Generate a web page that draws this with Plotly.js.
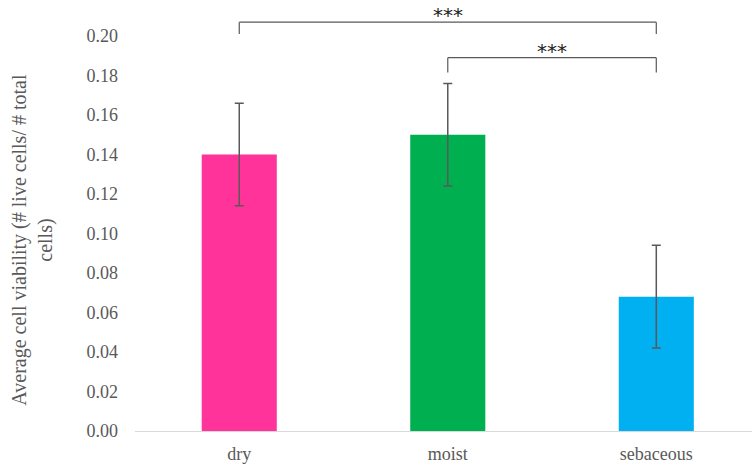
<!DOCTYPE html>
<html>
<head>
<meta charset="utf-8">
<script src="https://cdn.plot.ly/plotly-3.0.1.min.js"></script>
<style>html,body{margin:0;padding:0;background:#fff;}#chart{width:752px;height:465px;}</style>
</head>
<body>
<div id="chart"></div>
<script>
const categories = ["dry", "moist", "sebaceous"];
const means = [0.140, 0.150, 0.068];
const errors = [0.026, 0.026, 0.026];
const barColors = ["#FF3399", "#00B050", "#00B0F0"];
const tickVals = [0, 0.02, 0.04, 0.06, 0.08, 0.10, 0.12, 0.14, 0.16, 0.18, 0.20];
const tickText = ["0.00", "0.02", "0.04", "0.06", "0.08", "0.10", "0.12", "0.14", "0.16", "0.18", "0.20"];
const yTitle = "Average cell viability (# live cells/ # total<br>cells)";
// significance comparisons
const sigFrom = [0, 1];
const sigTo = [2, 2];
const sigLevel = [0.207, 0.189];
const sigDrop = [0.201, 0.1815];
const sigLabel = ["***", "***"];

const font = "Liberation Serif, DejaVu Serif, serif";
const shapes = [];
const annotations = [];
for (let i = 0; i < sigFrom.length; i++) {
  const a = sigFrom[i], b = sigTo[i], y = sigLevel[i], d = sigDrop[i];
  const ln = {color: "#595959", width: 1.2};
  shapes.push({type: "line", xref: "x", yref: "y", x0: a, x1: b, y0: y, y1: y, line: ln});
  shapes.push({type: "line", xref: "x", yref: "y", x0: a, x1: a, y0: d, y1: y, line: ln});
  shapes.push({type: "line", xref: "x", yref: "y", x0: b, x1: b, y0: d, y1: y, line: ln});
  annotations.push({x: (a + b) / 2, y: y, xref: "x", yref: "y", text: sigLabel[i], showarrow: false,
    yanchor: "bottom", yshift: -7, font: {family: "DejaVu Sans, sans-serif", size: 20, color: "#222"}});
}
annotations.push({x: -0.166, y: 0.445, xref: "paper", yref: "paper", text: yTitle, showarrow: false,
  textangle: -90, xanchor: "center", yanchor: "middle",
  font: {family: font, size: 20, color: "#595959"}});

const trace = {
  type: "bar",
  x: categories,
  y: means,
  marker: {color: barColors},
  error_y: {type: "data", array: errors, visible: true, color: "#595959", thickness: 1.5, width: 4.5},
  width: 0.36,
  hoverinfo: "skip"
};

const layout = {
  width: 752, height: 465,
  margin: {l: 135, r: 0, t: 2, b: 34},
  paper_bgcolor: "#fff", plot_bgcolor: "#fff",
  showlegend: false,
  font: {family: font, color: "#595959"},
  xaxis: {
    type: "category",
    range: [-0.5, 2.459],
    showline: true, linecolor: "#d9d9d9", linewidth: 1.3,
    ticks: "", showgrid: false, zeroline: false,
    ticklabelstandoff: 6,
    tickfont: {family: font, size: 18, color: "#595959"}
  },
  yaxis: {
    range: [0, 0.2172],
    tickvals: tickVals, ticktext: tickText,
    showgrid: false, zeroline: false, showline: false, ticks: "",
    ticklabelstandoff: 16,
    tickfont: {family: font, size: 18, color: "#595959"}
  },
  shapes: shapes,
  annotations: annotations
};

Plotly.newPlot("chart", [trace], layout, {displayModeBar: false, staticPlot: true});
</script>
</body>
</html>
